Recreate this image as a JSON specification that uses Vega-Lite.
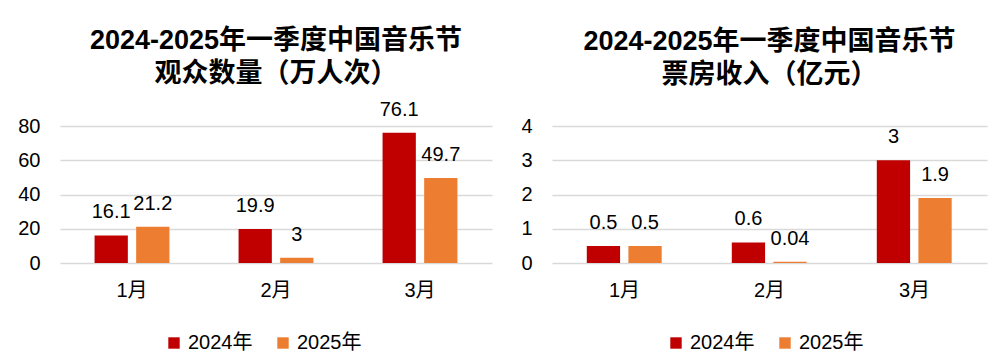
{
  "$schema": "https://vega.github.io/schema/vega-lite/v6.json",
  "background": "white",
  "padding": {"left": 17, "top": 26, "right": 15, "bottom": 5},
  "config": {
    "view": {"stroke": null},
    "font": "Liberation Sans, Noto Sans CJK SC",
    "axis": {"labelFont": "Liberation Sans, Noto Sans CJK SC", "labelFontSize": 20, "labelColor": "#000", "domain": false, "ticks": false, "title": null},
    "title": {"font": "Liberation Sans, Noto Sans CJK SC", "fontSize": 27, "fontWeight": "bold", "color": "#000", "lineHeight": 33, "anchor": "middle"},
    "legend": {"labelFont": "Liberation Sans, Noto Sans CJK SC", "labelFontSize": 20, "labelColor": "#000", "symbolType": "square", "symbolSize": 130, "symbolStrokeWidth": 0, "columnPadding": 20, "labelOffset": 4, "orient": "none", "direction": "horizontal", "title": null}
  },
  "datasets": {
    "aud": [
      {"month": "1月", "year": "2024年", "value": 16.1},
      {"month": "1月", "year": "2025年", "value": 21.2},
      {"month": "2月", "year": "2024年", "value": 19.9},
      {"month": "2月", "year": "2025年", "value": 3},
      {"month": "3月", "year": "2024年", "value": 76.1},
      {"month": "3月", "year": "2025年", "value": 49.7}
    ],
    "box": [
      {"month": "1月", "year": "2024年", "value": 0.5},
      {"month": "1月", "year": "2025年", "value": 0.5},
      {"month": "2月", "year": "2024年", "value": 0.6},
      {"month": "2月", "year": "2025年", "value": 0.04},
      {"month": "3月", "year": "2024年", "value": 3},
      {"month": "3月", "year": "2025年", "value": 1.9}
    ]
  },
  "hconcat": [
    {
      "title": {"text": ["2024-2025年一季度中国音乐节", "观众数量（万人次）"], "offset": 12},
      "width": 432,
      "height": 137,
      "data": {"name": "aud"},
      "encoding": {
        "x": {"field": "month", "type": "nominal", "scale": {"paddingInner": 0.48, "paddingOuter": 0.24}, "axis": {"labelAngle": 0, "grid": false, "labelPadding": 17}},
        "xOffset": {"field": "year", "type": "nominal", "scale": {"paddingInner": 0.2}},
        "y": {"field": "value", "type": "quantitative", "scale": {"domain": [0, 80]}, "axis": {"values": [0, 20, 40, 60, 80], "gridColor": "#d9d9d9", "gridWidth": 1.5, "labelPadding": 20}}
      },
      "layer": [
        {"mark": {"type": "bar"}, "encoding": {"color": {"field": "year", "type": "nominal", "scale": {"range": ["#C00000", "#ED7D31"]}, "legend": {"legendX": 104, "legendY": 207}}}},
        {"mark": {"type": "text", "baseline": "bottom", "dy": -13, "fontSize": 20, "color": "#000"}, "encoding": {"text": {"field": "value", "type": "quantitative"}}}
      ]
    },
    {
      "title": {"text": ["2024-2025年一季度中国音乐节", "票房收入（亿元）"], "offset": 27},
      "width": 435,
      "height": 137,
      "data": {"name": "box"},
      "encoding": {
        "x": {"field": "month", "type": "nominal", "scale": {"paddingInner": 0.48, "paddingOuter": 0.24}, "axis": {"labelAngle": 0, "grid": false, "labelPadding": 17}},
        "xOffset": {"field": "year", "type": "nominal", "scale": {"paddingInner": 0.2}},
        "y": {"field": "value", "type": "quantitative", "scale": {"domain": [0, 4]}, "axis": {"values": [0, 1, 2, 3, 4], "gridColor": "#d9d9d9", "gridWidth": 1.5, "labelPadding": 20}}
      },
      "layer": [
        {"mark": {"type": "bar"}, "encoding": {"color": {"field": "year", "type": "nominal", "scale": {"range": ["#C00000", "#ED7D31"]}, "legend": {"legendX": 114, "legendY": 207}}}},
        {"mark": {"type": "text", "baseline": "bottom", "dy": -13, "fontSize": 20, "color": "#000"}, "encoding": {"text": {"field": "value", "type": "quantitative"}}}
      ]
    }
  ],
  "spacing": 28,
  "resolve": {"scale": {"color": "independent", "y": "independent", "x": "independent"}, "legend": {"color": "independent"}}
}
